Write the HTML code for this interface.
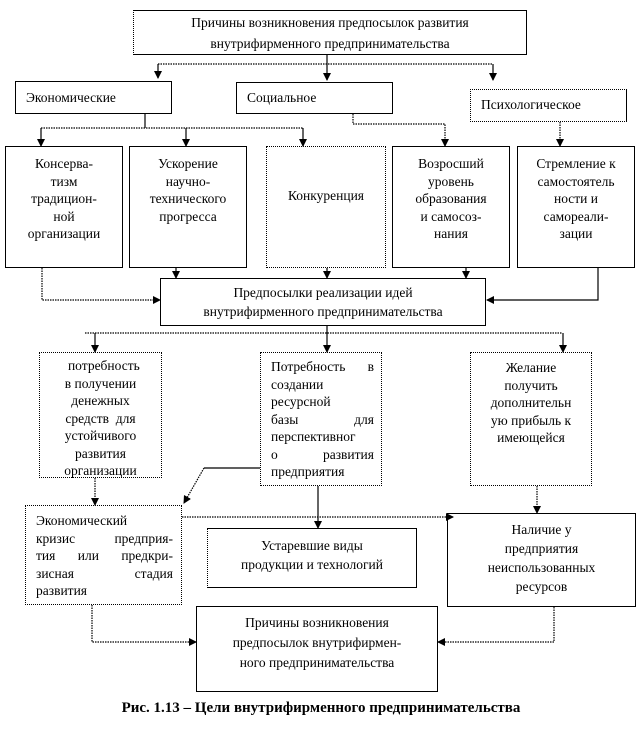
<!DOCTYPE html>
<html><head><meta charset="utf-8"><style>
body{margin:0;background:#fff;width:642px;height:730px;position:relative;overflow:hidden;font-family:"Liberation Serif","DejaVu Serif",serif;color:#000}
.b{position:absolute;border:1px solid #000;box-sizing:border-box;font-size:13.5px;line-height:17.5px;text-align:center}
.d{border-style:dotted}
svg{position:absolute;left:0;top:0}
.f{display:flex;justify-content:space-between}
</style></head><body>
<div class="b" style="left:133px;top:10px;width:394px;height:45px;padding-top:1px;line-height:21px;border-left-style:dotted">Причины возникновения предпосылок развития<br>внутрифирменного предпринимательства</div>
<div class="b" style="left:15px;top:81px;width:157px;height:33px;text-align:left;padding:7px 0 0 10px">Экономические</div>
<div class="b" style="left:236px;top:82px;width:157px;height:32px;text-align:left;padding:6px 0 0 10px">Социальное</div>
<div class="b d" style="left:470px;top:89px;width:157px;height:33px;text-align:left;padding:6px 0 0 10px;border-right-style:solid">Психологическое</div>

<div class="b" style="left:5px;top:146px;width:118px;height:122px;padding-top:8px">Консерва-<br>тизм<br>традицион-<br>ной<br>организации</div>
<div class="b" style="left:129px;top:146px;width:118px;height:122px;padding-top:8px">Ускорение<br>научно-<br>технического<br>прогресса</div>
<div class="b d" style="left:266px;top:146px;width:120px;height:122px;padding-top:40px">Конкуренция</div>
<div class="b" style="left:392px;top:146px;width:118px;height:122px;padding-top:8px">Возросший<br>уровень<br>образования<br>и самосоз-<br>нания</div>
<div class="b" style="left:517px;top:146px;width:118px;height:122px;padding-top:8px">Стремление к<br>самостоятель<br>ности и<br>самореали-<br>зации</div>

<div class="b" style="left:160px;top:278px;width:326px;height:48px;padding-top:5px;line-height:18.5px">Предпосылки реализации идей<br>внутрифирменного предпринимательства</div>

<div class="b d" style="left:39px;top:352px;width:123px;height:126px;padding:4px 0 0 0">&nbsp;&nbsp;потребность<br>в получении<br>денежных<br>средств&nbsp; для<br>устойчивого<br>развития<br>организации</div>
<div class="b d" style="left:260px;top:352px;width:122px;height:134px;padding:5px 7px 0 10px;text-align:left"><div class="f"><span>Потребность</span><span>в</span></div><div>создании</div><div>ресурсной</div><div class="f"><span>базы</span><span>для</span></div><div>перспективног</div><div class="f"><span>о</span><span>развития</span></div><div>предприятия</div></div>
<div class="b d" style="left:470px;top:352px;width:122px;height:134px;padding-top:6px">Желание<br>получить<br>дополнительн<br>ую прибыль к<br>имеющейся</div>

<div class="b d" style="left:25px;top:505px;width:157px;height:100px;padding:6px 8px 0 10px;text-align:left"><div>Экономический</div><div class="f"><span>кризис</span><span>предприя-</span></div><div class="f"><span>тия</span><span>или</span><span>предкри-</span></div><div class="f"><span>зисная</span><span>стадия</span></div><div>развития</div></div>
<div class="b" style="left:207px;top:528px;width:210px;height:60px;padding-top:7px;line-height:19px;border-left-style:dotted">Устаревшие виды<br>продукции и технологий</div>
<div class="b" style="left:447px;top:513px;width:189px;height:94px;padding-top:6px;line-height:19px">Наличие у<br>предприятия<br>неиспользованных<br>ресурсов</div>
<div class="b" style="left:196px;top:606px;width:242px;height:86px;padding-top:6px;line-height:20px">Причины возникновения<br>предпосылок внутрифирмен-<br>ного предпринимательства</div>

<div style="position:absolute;left:0;width:642px;top:700px;text-align:center;font-weight:bold;font-size:15px">Рис. 1.13 – Цели внутрифирменного предпринимательства</div>

<svg width="642" height="730" viewBox="0 0 642 730">
<defs><marker id="a" markerWidth="8" markerHeight="8" refX="7" refY="4" orient="auto" markerUnits="userSpaceOnUse"><path d="M0,0L8,4L0,8z" fill="#000"/></marker></defs>
<g fill="none" stroke="#000" stroke-width="1.2">
<path d="M327 55V80" marker-end="url(#a)"/>
<path d="M158 64H493" stroke-dasharray="1.5 1"/>
<path d="M158 64V78" marker-end="url(#a)"/>
<path d="M493 64V80" marker-end="url(#a)"/>
<path d="M145 114V128"/>
<path d="M41 128H303" stroke-dasharray="1.5 1"/>
<path d="M41 128V146" marker-end="url(#a)"/>
<path d="M186 128V146" marker-end="url(#a)"/>
<path d="M303 128V146" marker-end="url(#a)"/>
<path d="M353 114V124H445V146" stroke-dasharray="1.5 1" marker-end="url(#a)"/>
<path d="M560 122V146" stroke-dasharray="1.5 1" marker-end="url(#a)"/>
<path d="M42 268V300H160" stroke-dasharray="1.5 1" marker-end="url(#a)"/>
<path d="M176 268V278" marker-end="url(#a)"/>
<path d="M327 268V278" marker-end="url(#a)"/>
<path d="M466 268V278" marker-end="url(#a)"/>
<path d="M598 268V300H487" marker-end="url(#a)"/>
<path d="M327 326V352" marker-end="url(#a)"/>
<path d="M85 333H562" stroke-dasharray="1.5 1"/>
<path d="M95 333V352" marker-end="url(#a)"/>
<path d="M563 333V352" marker-end="url(#a)"/>
<path d="M95 478V505" stroke-dasharray="1.5 1" marker-end="url(#a)"/>
<path d="M260 468H204"/>
<path d="M204 468L184 503" stroke-dasharray="1.5 1" marker-end="url(#a)"/>
<path d="M318 486V528" marker-end="url(#a)"/>
<path d="M537 486V513" stroke-dasharray="1.5 1" marker-end="url(#a)"/>
<path d="M182 517H453" stroke-dasharray="1.5 1" marker-end="url(#a)"/>
<path d="M92 605V642H196" stroke-dasharray="1.5 1" marker-end="url(#a)"/>
<path d="M554 607V642H438" stroke-dasharray="1.5 1" marker-end="url(#a)"/>
</g>
</svg>
</body></html>
